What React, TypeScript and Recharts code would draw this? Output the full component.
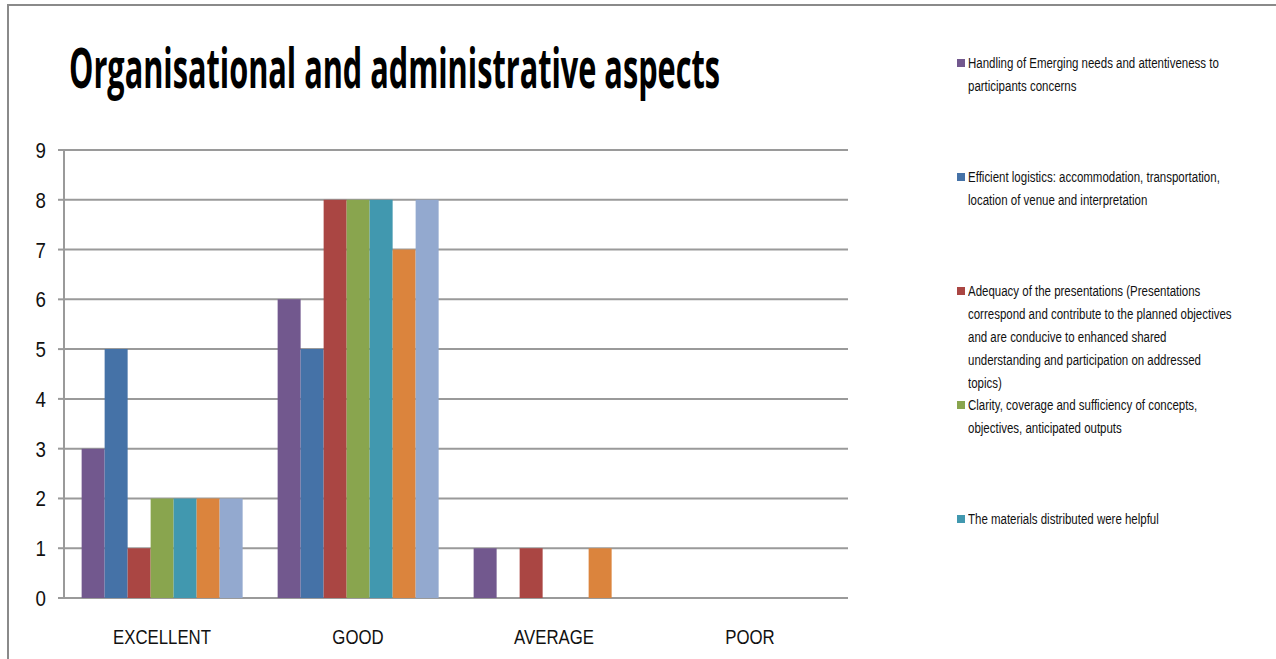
import { BarChart, Bar, XAxis, YAxis, CartesianGrid } from 'recharts'

const categories = ['EXCELLENT', 'GOOD', 'AVERAGE', 'POOR']

const handling = [3, 6, 1, 0]
const logistics = [5, 5, 0, 0]
const presentations = [1, 8, 1, 0]
const clarity = [2, 8, 0, 0]
const materials = [2, 8, 0, 0]
const series6 = [2, 7, 1, 0]
const series7 = [2, 8, 0, 0]

const yTicks = [0, 1, 2, 3, 4, 5, 6, 7, 8, 9]

// legend text, broken into the lines it is shown on
const handlingLines = ['Handling of Emerging needs and attentiveness to', 'participants concerns']
const logisticsLines = ['Efficient logistics: accommodation, transportation,', 'location of venue and interpretation']
const presentationsLines = [
  'Adequacy of the presentations (Presentations',
  'correspond and contribute to the planned objectives',
  'and are conducive to enhanced shared',
  'understanding and participation on addressed',
  'topics)',
]
const clarityLines = ['Clarity, coverage and sufficiency of concepts,', 'objectives, anticipated outputs']
const materialsLines = ['The materials distributed were helpful']

const series = [
  { key: 'handling', lines: handlingLines, values: handling, color: '#72588e' },
  { key: 'logistics', lines: logisticsLines, values: logistics, color: '#4572a7' },
  { key: 'presentations', lines: presentationsLines, values: presentations, color: '#aa4643' },
  { key: 'clarity', lines: clarityLines, values: clarity, color: '#89a54e' },
  { key: 'materials', lines: materialsLines, values: materials, color: '#4198af' },
  { key: 's6', lines: [], values: series6, color: '#db843d' },
  { key: 's7', lines: [], values: series7, color: '#93a9cf' },
]

const data = categories.map((cat, i) => {
  const row: Record<string, string | number> = { category: cat }
  series.forEach((s) => {
    row[s.key] = s.values[i]
  })
  return row
})

const FONT = '"Liberation Sans", Arial, sans-serif'
const GRID = '#9a9a9a'

// narrow the Arial-like glyphs to a Calibri-like width
const XTick = (props: any) => {
  const { x, y, payload } = props
  return (
    <text
      transform={`translate(${x},${y}) scale(0.8,1)`}
      y={46}
      textAnchor="middle"
      fontFamily={FONT}
      fontSize={21}
      fill="#111"
    >
      {payload.value}
    </text>
  )
}

const YTick = (props: any) => {
  const { x, y, payload } = props
  return (
    <text
      transform={`translate(${x},${y}) scale(0.85,1)`}
      y={8}
      textAnchor="end"
      fontFamily={FONT}
      fontSize={22}
      fill="#111"
    >
      {payload.value}
    </text>
  )
}

function Legend() {
  const tops = [52, 166, 280, 394, 508]
  return (
    <>
      {series
        .filter((s) => s.lines.length > 0)
        .map((s, i) => (
          <div
            key={s.key}
            style={{ position: 'absolute', left: 957, top: tops[i], width: 310 }}
          >
            <div
              style={{
                position: 'absolute',
                left: 0,
                top: 7,
                width: 8,
                height: 8,
                background: s.color,
              }}
            />
            {s.lines.map((line) => (
              <div
                key={line}
                style={{
                  marginLeft: 11,
                  height: 23,
                  lineHeight: '23px',
                  whiteSpace: 'nowrap',
                  fontFamily: FONT,
                  fontSize: 14,
                  color: '#111',
                  transform: 'scaleX(0.82)',
                  transformOrigin: 'left center',
                }}
              >
                {line}
              </div>
            ))}
          </div>
        ))}
    </>
  )
}

export default function App() {
  return (
    <div
      style={{
        position: 'absolute',
        left: 0,
        top: 0,
        width: 1276,
        height: 659,
        background: '#fff',
        overflow: 'hidden',
      }}
    >
      <div
        style={{
          position: 'absolute',
          left: 7,
          top: 4,
          width: 1300,
          height: 700,
          borderTop: '2px solid #8a8a8a',
          borderLeft: '2px solid #8a8a8a',
        }}
      />
      <svg
        width={760}
        height={110}
        style={{ position: 'absolute', left: 69, top: 13 }}
      >
        {/* condensed bold title: half-width scale, stretched back to the target length */}
        <text
          transform="scale(0.5,1)"
          x={0}
          y={75}
          fontFamily='"Open Sans", sans-serif'
          fontWeight="bold"
          fontSize={55}
          textLength={1302}
          lengthAdjust="spacingAndGlyphs"
          fill="#000"
        >
          Organisational and administrative aspects
        </text>
      </svg>
      <div style={{ position: 'absolute', left: 0, top: 0 }}>
        <BarChart
          width={1276}
          height={659}
          data={data}
          margin={{ top: 150, right: 428, bottom: 0, left: 0 }}
          barCategoryGap="9%"
          barGap={0}
        >
          <CartesianGrid
            horizontal
            vertical={false}
            stroke={GRID}
            strokeWidth={2}
          />
          <XAxis
            xAxisId="edges"
            type="number"
            domain={[0, 4]}
            ticks={[0, 1, 2, 3, 4]}
            height={0}
            tickSize={7}
            tickFormatter={() => ''}
            axisLine={{ stroke: GRID, strokeWidth: 2 }}
            tickLine={{ stroke: GRID, strokeWidth: 2 }}
          />
          <XAxis
            dataKey="category"
            height={61}
            axisLine={false}
            tickLine={false}
            tickSize={0}
            tickMargin={0}
            tick={<XTick />}
          />
          <YAxis
            width={64}
            domain={[0, 9]}
            ticks={yTicks}
            interval={0}
            tickSize={6}
            tickMargin={12}
            axisLine={{ stroke: GRID, strokeWidth: 2 }}
            tickLine={{ stroke: GRID, strokeWidth: 2 }}
            tick={<YTick />}
          />
          {series.map((s) => (
            <Bar
              key={s.key}
              dataKey={s.key}
              fill={s.color}
              isAnimationActive={false}
            />
          ))}
        </BarChart>
      </div>
      <Legend />
    </div>
  )
}
